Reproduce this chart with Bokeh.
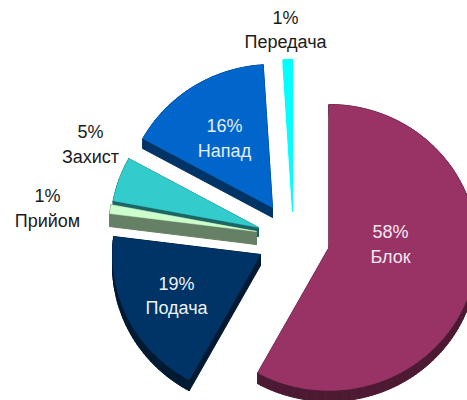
import math
from bokeh.plotting import figure
from bokeh.models import Range1d
from bokeh.core.properties import value
from bokeh.embed import file_html
from bokeh.resources import INLINE

# Data, clockwise from 12 o'clock
categories = ["Блок", "Подача", "Прийом", "Захист", "Напад", "Передача"]
shares = [58, 19, 1, 5, 16, 1]

# Styles and layout per slice
top_colors = ["#993366", "#003366", "#ccffcc", "#33cccc", "#0066cc", "#00ffff"]
side_colors = ["#4d1a33", "#001a33", "#668066", "#1a6666", "#003366", "#00ffff"]
centers = [(328.5, 247), (260, 254), (256, 231), (258, 227), (272, 207), (292, 202)]
depths = [11, 11, 13, 9, 10, 9]
label_pos = [(390, 231, 256), (176, 283, 307), (47, 195, 220), (90, 131, 156), (224, 125, 150), (285, 17, 41)]
label_colors = ["#f4e6ee", "#eef2f6", "#1a1a1a", "#1a1a1a", "#e6eef8", "#1a1a1a"]
RX, RY = 148, 143
draw_order = [0, 1, 3, 2, 4, 5]

W, H = 467, 400
p = figure(width=W, height=H, x_range=Range1d(0, 467), y_range=Range1d(400, 0),
           output_backend="svg", toolbar_location=None, min_border=0)
p.axis.visible = False
p.grid.visible = False
p.outline_line_color = None
p.background_fill_color = "white"
p.border_fill_color = "white"

total = sum(shares)
starts = [sum(shares[:i]) / total * 2 * math.pi for i in range(len(shares))]
ends = [sum(shares[:i + 1]) / total * 2 * math.pi for i in range(len(shares))]


def outline(i):
    cx, cy = centers[i]
    n = max(3, int((ends[i] - starts[i]) * 40))
    xs, ys = [cx], [cy]
    for k in range(n + 1):
        a = starts[i] + (ends[i] - starts[i]) * k / n
        xs.append(cx + RX * math.sin(a))
        ys.append(cy - RY * math.cos(a))
    return xs, ys


for i in draw_order:
    xs, ys = outline(i)
    d = depths[i]
    qx, qy = [], []
    m = len(xs)
    for k in range(m):
        j = (k + 1) % m
        qx.append([xs[k], xs[j], xs[j], xs[k]])
        qy.append([ys[k], ys[j], ys[j] + d, ys[k] + d])
    p.patches(qx, qy, fill_color=side_colors[i], line_color=side_colors[i], line_width=1)
    p.patch(xs, ys, fill_color=top_colors[i], line_color=top_colors[i], line_width=0.5)

for i, name in enumerate(categories):
    x, y1, y2 = label_pos[i]
    for y, t in ((y1, f"{shares[i]}%"), (y2, name)):
        p.text([x], [y], text=[t], text_font=value("Liberation Sans"), text_font_size="18px",
               text_align="center", text_baseline="middle", text_color=label_colors[i])

open("out.html", "w").write(file_html(p, INLINE))
